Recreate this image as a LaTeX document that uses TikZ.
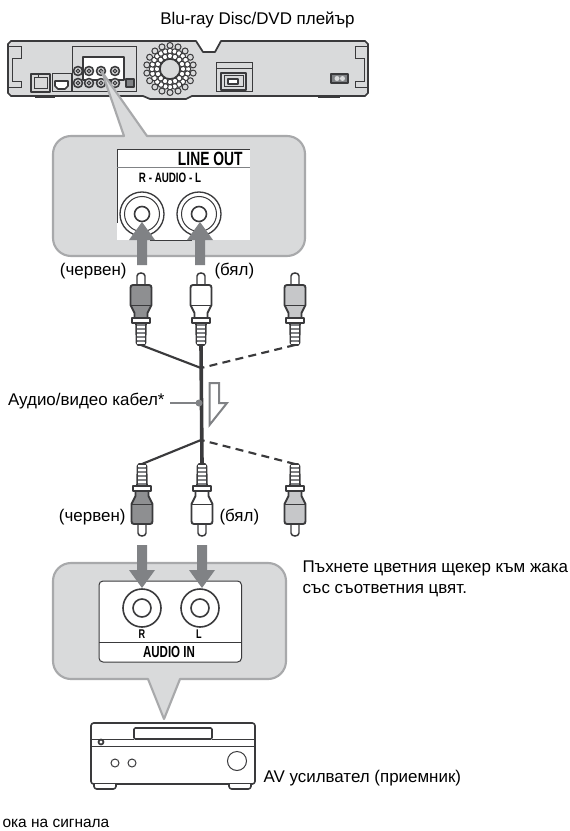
\documentclass[tikz,border=0pt]{standalone}
\usepackage{fontspec}
\setmainfont{Liberation Sans}
\newfontfamily\panelfont[FakeStretch=0.72]{Liberation Sans}

\definecolor{bubblefill}{HTML}{D9DADB}
\definecolor{bubbleline}{HTML}{A8A9AB}
\definecolor{arrowgray}{HTML}{808285}
\definecolor{darkline}{HTML}{3A3A3C}
\definecolor{redplug}{HTML}{8E8F91}
\definecolor{spareplug}{HTML}{C6C7C9}

\tikzset{every picture/.style={line width=0.75pt}}
\tikzset{
  label text/.style={inner sep=0pt,font=\fontsize{12.7pt}{15pt}\selectfont},
  panel text/.style={inner sep=0pt,font=\panelfont\bfseries\fontsize{6.6pt}{8pt}\selectfont},
  bubble/.style={fill=bubblefill,draw=bubbleline,line width=1.6pt,line join=round},
  unit/.style={draw=darkline,line width=1.2pt,line join=round},
  thin unit/.style={draw=darkline,line width=0.75pt},
  flow arrow/.style={fill=arrowgray,draw=none},
  cable/.style={draw=darkline,line width=1.6pt},
  plug/.pic={
    % tip
    \draw[thin unit,line width=1.1pt,fill=white] (-4,14) -- (-4,3) .. controls (-4,-1) and (4,-1) .. (4,3) -- (4,14);
    % body
    \draw[unit,line width=1.4pt,fill=\pgfkeysvalueof{/tikz/plug body}] (-8,12) -- (8,12) .. controls (10,12) and (10.5,13) .. (10.5,15) -- (10.5,32) -- (6.5,40) -- (6.5,45) -- (-6.5,45) -- (-6.5,40) -- (-10.5,32) -- (-10.5,15) .. controls (-10.5,13) and (-10,12) .. (-8,12) -- cycle;
    \draw[thin unit] (-10.5,32) -- (10.5,32);
    % collar
    \draw[unit,line width=1.4pt,fill=white] (-9,45) rectangle (9,50);
    % thread
    \draw[unit,line width=1.2pt,fill=arrowgray] (-5,50) -- (5,50) -- (4.5,70) -- (3,72) -- (-3,72) -- (-4.5,70) -- cycle;
    \foreach \ty in {54,58,...,70} {\draw[thin unit,draw=white,line width=0.8pt] (-4,\ty) -- (4,\ty);}
  },
  plug body/.initial=white,
}

\begin{document}
\begin{tikzpicture}[x=0.75pt,y=0.75pt,yscale=-1,xscale=1]
\useasboundingbox (0,0) rectangle (570,831);

% Player
\draw[unit,fill=bubblefill,line width=1.3pt] (11,41) -- (196,41) -- (203,52) -- (215,52) -- (221,41) -- (365,41) -- (368,44) -- (368,93) -- (365,96) -- (318,96) -- (200,96) -- (192,96) -- (186,99) -- (150,99) -- (143,96) -- (11,96) -- (8,93) -- (8,44) -- cycle;
\draw[thin unit] (8,47) -- (21,47) -- (21,59) -- (12,59) -- (12,82) -- (21,82) -- (21,88) -- (8,88);
\draw[thin unit] (368,47) -- (355,47) -- (355,59) -- (364,59) -- (364,82) -- (355,82) -- (355,88) -- (368,88);
\draw[unit] (35,97) -- (55,97);
\draw[unit] (318,97) -- (340,97);
% LAN and HDMI
\draw[unit,fill=white!85!black] (31,74) rectangle (50,92);
\draw[thin unit] (34,78) -- (47,78) -- (47,89) -- (34,89) -- cycle;
\draw[thin unit] (38,78) -- (38,75);
\draw[thin unit] (52,74) rectangle (71,92);
\draw[unit,fill=white] (55,81) -- (68,81) -- (68,86) -- (65,89) -- (58,89) -- (55,86) -- cycle;
% jack panel
\draw[thin unit] (72,47) -- (136,47) -- (136,92) -- (72,92) -- cycle;
\draw[unit,fill=white] (83,57) rectangle (124,80);
\foreach \jx/\jy in {78/71,89/71,101/71,115/71,78/83,89/83,101/83,115/83} {
  \draw[unit,fill=bubblefill] (\jx,\jy) circle (4.5);
  \draw[thin unit] (\jx,\jy) circle (1.8);
}
\draw[unit,fill=arrowgray] (126,79) rectangle (134,87);
% fan
\foreach \fa in {10,30,...,350} {\draw[thin unit,fill=bubblefill] (170,69) ++(\fa:23.5) circle (3);}
\foreach \fa in {0,15,...,345} {\draw[thin unit,fill=white] (170,69) ++(\fa:18) circle (2.8);}
\foreach \fa in {0,22.5,...,337.5} {\draw[thin unit,fill=white] (170,69) ++(\fa:13) circle (2.8);}
\draw[thin unit,line width=1.1pt,fill=bubblefill] (170,69) circle (10);
% USB
\draw[thin unit] (216,63) rectangle (252,92);
\draw[thin unit] (216,69) -- (252,69);
\draw[unit] (221,73) rectangle (246,90);
\draw[thin unit] (224,76) rectangle (243,87);
\draw[unit,fill=white] (228,79) rectangle (238,84);
% power
\draw[unit,fill=arrowgray] (331,74) rectangle (348,83);
\fill[bubblefill] (337,78.5) circle (2.5) (342.5,78.5) circle (2.5);

% Upper bubble
\draw[bubble] (124,136) -- (102,72) -- (147,136) -- (287,136) arc (-90:0:18) -- (305,238) arc (0:90:18) -- (71,256) arc (90:180:18) -- (53,154) arc (180:270:18) -- cycle;
\fill[white] (117,150) rectangle (250,240);
\draw[thin unit] (117,223) -- (117,150) -- (250,150);
\draw[thin unit,draw=arrowgray] (117,168) -- (250,168);
\draw[thin unit] (150,240) -- (192,240);
\node[panel text,anchor=east,font=\panelfont\bfseries\fontsize{14.4pt}{15pt}\selectfont] (lineout) at (243,159) {LINE OUT};
\node[panel text,font=\panelfont\bfseries\fontsize{10.2pt}{11pt}\selectfont] (audiolabel) at (170,178) {R - AUDIO - L};
\foreach \jx in {142,199} {
  \draw[thin unit,line width=1pt] (\jx,214) circle (22);
  \draw[thin unit] (\jx,214) circle (17.5);
  \draw[thin unit,line width=1.2pt] (\jx,214) circle (7.5);
}
\foreach \ax in {142,200} {
  \fill[flow arrow] (\ax-5,265) -- (\ax-5,240) -- (\ax-13,240) -- (\ax,222) -- (\ax+13,240) -- (\ax+5,240) -- (\ax+5,265) -- cycle;
}

% Text Node
\node[label text,anchor=base] (player) at (257.5,25) {Blu-ray Disc/DVD плейър};
\node[label text,anchor=base east] (redtop) at (127,275) {(червен)};
\node[label text,anchor=base west] (whitetop) at (214,275) {(бял)};
\node[label text,anchor=base east] (cablelabel) at (165,405) {Аудио/видео кабел*};
\node[label text,anchor=base east] (redbottom) at (126,521.5) {(червен)};
\node[label text,anchor=base west] (whitebottom) at (219,521.5) {(бял)};
\node[label text,anchor=base west] (hintone) at (302,572) {Пъхнете цветния щекер към жака};
\node[label text,anchor=base west] (hinttwo) at (302,593) {със съответния цвят.};
\node[label text,anchor=base west] (amplabel) at (263,782) {AV усилвател (приемник)};
\node[label text,anchor=base west,font=\fontsize{11.6pt}{15pt}\selectfont] (flowlabel) at (2,827) {ока на сигнала};

% Cable
\coordinate (topleft) at (141,345);
\coordinate (topmid) at (201,345);
\coordinate (topright) at (295,345);
\coordinate (upperjoin) at (201,368);
\coordinate (lowerjoin) at (201,440);
\coordinate (botleft) at (142,464);
\coordinate (botmid) at (202,464);
\coordinate (botright) at (295,464);
\coordinate (leaderstart) at (170,403);
\coordinate (leaderdot) at (199,403);
\draw[cable,line width=2.7pt] (topmid) -- (botmid);
\draw[cable] (topleft) -- (upperjoin);
\draw[cable,dashed,dash pattern=on 6pt off 4pt] (topright) -- (upperjoin);
\draw[cable] (botleft) -- (lowerjoin);
\draw[cable,dashed,dash pattern=on 6pt off 4pt] (botright) -- (lowerjoin);
\draw[arrowgray,line width=1pt] (leaderstart) -- (leaderdot);
\fill[arrowgray] (leaderdot) circle (3.5);
\draw[arrowgray,line width=1.5pt,fill=white,line join=miter] (209.5,383) -- (219,383) -- (219,403) -- (227,403) -- (209.5,425) -- cycle;

% Plugs
\pic[plug body=redplug,yscale=-1] at (141,273) {plug};
\pic[plug body=white,yscale=-1] at (201,273) {plug};
\pic[plug body=spareplug,yscale=-1] at (295,273) {plug};
\pic[plug body=redplug] at (142,536) {plug};
\pic[plug body=white] at (202,536) {plug};
\pic[plug body=spareplug] at (295,536) {plug};

% Lower bubble
\draw[bubble] (148,679) -- (164,719) -- (180,679) -- (268,679) arc (90:0:18) -- (286,581) arc (0:-90:18) -- (71,563) arc (270:180:18) -- (53,661) arc (180:90:18) -- cycle;
\draw[thin unit,fill=white,rounded corners=3pt] (99,581) rectangle (241.5,662);
\draw[thin unit] (99,642) -- (241.5,642);
\foreach \jx in {142,200} {
  \draw[thin unit,line width=1.2pt] (\jx,608) circle (19);
  \draw[thin unit,line width=1.2pt] (\jx,608) circle (9);
}
\foreach \ax in {142,202} {
  \fill[flow arrow] (\ax-5,545) -- (\ax-5,570) -- (\ax-13,570) -- (\ax,588) -- (\ax+13,570) -- (\ax+5,570) -- (\ax+5,545) -- cycle;
}
\node[panel text,font=\panelfont\bfseries\fontsize{9.5pt}{10pt}\selectfont] (rlabel) at (142,634) {R};
\node[panel text,font=\panelfont\bfseries\fontsize{9.5pt}{10pt}\selectfont] (llabel) at (199,634) {L};
\node[panel text,font=\panelfont\bfseries\fontsize{12pt}{13pt}\selectfont] (audioin) at (169,652) {AUDIO IN};

% Amplifier
\draw[unit,fill=white,rounded corners=2pt] (91,723) rectangle (255,784);
\draw[thin unit] (91,739) -- (134,739);
\draw[thin unit] (212,739) -- (255,739);
\draw[thin unit] (91,746) -- (255,746);
\draw[unit,fill=white,rounded corners=1pt] (134,728) rectangle (212,739);
\draw[unit,fill=white,line width=1.3pt] (101,742) circle (2.5);
\draw[thin unit] (115,763) circle (4);
\draw[thin unit] (132,763) circle (4);
\draw[thin unit] (237,761) circle (9.5);
\draw[unit,fill=white,rounded corners=2pt] (94,784) -- (94,789) -- (116,789) -- (116,784);
\draw[unit,fill=white,rounded corners=2pt] (229,784) -- (229,789) -- (251,789) -- (251,784);

\end{tikzpicture}
\end{document}
